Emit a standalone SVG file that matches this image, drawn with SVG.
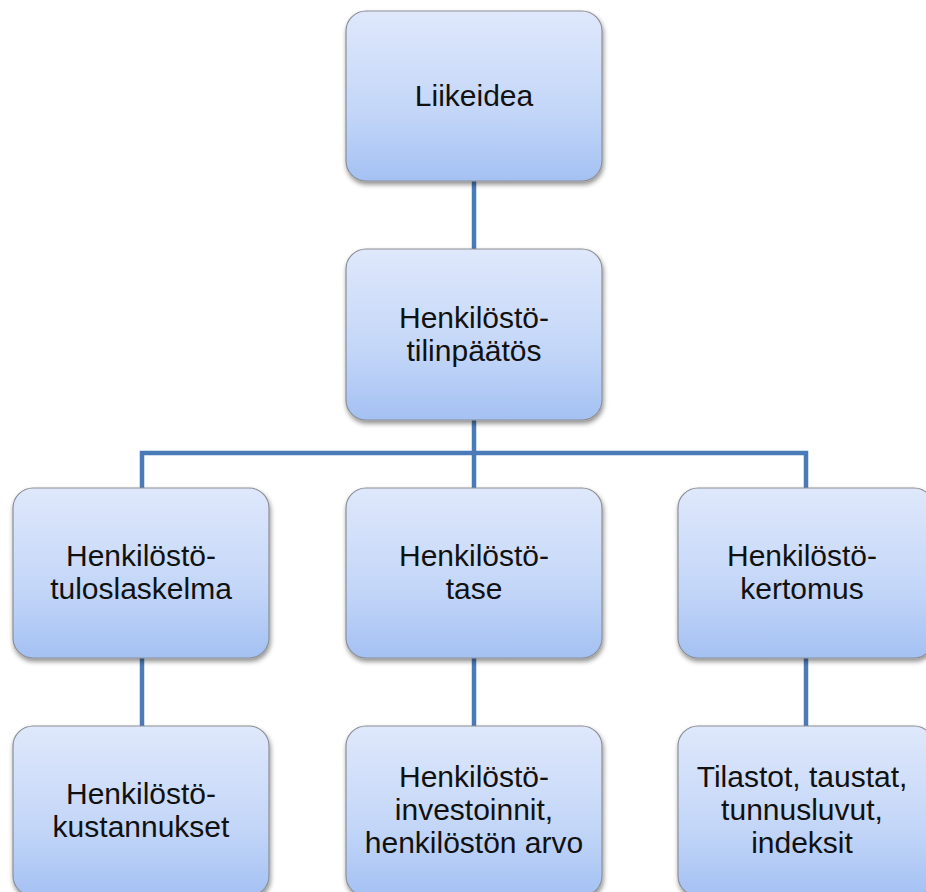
<svg xmlns="http://www.w3.org/2000/svg" width="926" height="892" viewBox="0 0 926 892">
<defs>
<linearGradient id="g" x1="0" y1="0" x2="0" y2="1">
<stop offset="0" stop-color="#dfe8fb"/>
<stop offset="0.6" stop-color="#c3d6f8"/>
<stop offset="1" stop-color="#a4c1f3"/>
</linearGradient>
<filter id="sh" x="-10%" y="-10%" width="120%" height="125%">
<feGaussianBlur in="SourceAlpha" stdDeviation="2.5"/>
<feOffset dx="1" dy="3" result="b"/>
<feComponentTransfer><feFuncA type="linear" slope="0.45"/></feComponentTransfer>
<feMerge><feMergeNode/><feMergeNode in="SourceGraphic"/></feMerge>
</filter>
</defs>
<style>
.box{fill:url(#g);stroke:#8c8f95;stroke-width:1.2;filter:url(#sh)}
.t{font-family:"Liberation Sans",Arial,sans-serif;font-size:30px;fill:#111;text-anchor:middle}
.c{fill:none;stroke:#4a7ab7;stroke-width:4.5}
</style>
<rect width="926" height="892" fill="#ffffff"/>
<g id="connectors">
<path class="c" d="M474 181 V249"/>
<path class="c" d="M474 420 V488"/>
<path class="c" d="M142 488 V453 H806 V488"/>
<path class="c" d="M142 658 V726"/>
<path class="c" d="M474 658 V726"/>
<path class="c" d="M806 658 V726"/>
</g>
<g id="n1"><rect class="box" x="346" y="11" width="256" height="170" rx="20"/><text class="t" x="474" y="106">Liikeidea</text></g>
<g id="n2"><rect class="box" x="346" y="249" width="256" height="171" rx="20"/><text class="t" x="474" y="328">Henkilöstö-</text><text class="t" x="474" y="361">tilinpäätös</text></g>
<g id="n3"><rect class="box" x="13" y="488" width="256" height="170" rx="20"/><text class="t" x="141" y="566">Henkilöstö-</text><text class="t" x="141" y="599">tuloslaskelma</text></g>
<g id="n4"><rect class="box" x="346" y="488" width="256" height="170" rx="20"/><text class="t" x="474" y="566">Henkilöstö-</text><text class="t" x="474" y="599">tase</text></g>
<g id="n5"><rect class="box" x="678" y="488" width="256" height="170" rx="20"/><text class="t" x="802" y="566">Henkilöstö-</text><text class="t" x="802" y="599">kertomus</text></g>
<g id="n6"><rect class="box" x="13" y="726" width="256" height="170" rx="20"/><text class="t" x="141" y="804">Henkilöstö-</text><text class="t" x="141" y="837">kustannukset</text></g>
<g id="n7"><rect class="box" x="346" y="726" width="256" height="170" rx="20"/><text class="t" x="474" y="787">Henkilöstö-</text><text class="t" x="474" y="820">investoinnit,</text><text class="t" x="474" y="853">henkilöstön arvo</text></g>
<g id="n8"><rect class="box" x="678" y="726" width="256" height="170" rx="20"/><text class="t" x="802" y="787">Tilastot, taustat,</text><text class="t" x="802" y="820">tunnusluvut,</text><text class="t" x="802" y="853">indeksit</text></g>
</svg>
